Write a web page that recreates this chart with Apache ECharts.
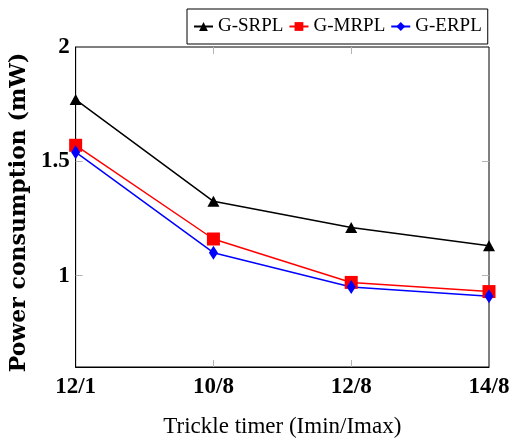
<!DOCTYPE html>
<html>
<head>
<meta charset="utf-8">
<script src="https://cdn.jsdelivr.net/npm/echarts@6/dist/echarts.min.js"></script>
<style>
  html, body { margin: 0; padding: 0; background: #fff; }
  #chart { width: 513px; height: 443px; }
</style>
</head>
<body>
<div id="chart"></div>
<script>
// Trickle timer settings (Imin/Imax)
const categories = ['12/1', '10/8', '12/8', '14/8'];
// Power consumption in mW for each protocol
const srpl = [1.77, 1.325, 1.21, 1.13];
const mrpl = [1.57, 1.16, 0.97, 0.93];
const erpl = [1.54, 1.10, 0.95, 0.91];
const yTicks = [1, 1.5, 2];

const serif = 'Liberation Serif';
const tickGrey = '#b4b4b4';

const chart = echarts.init(document.getElementById('chart'), null, { renderer: 'canvas' });

const innerTick = { show: true, inside: true, length: 7, lineStyle: { color: tickGrey, width: 1 } };

function lineSeries(name, data, color, symbol, size) {
  return {
    name: name,
    type: 'line',
    data: data,
    xAxisIndex: 0,
    yAxisIndex: 0,
    symbol: symbol,
    symbolSize: size,
    showSymbol: true,
    lineStyle: { color: color, width: 1.5 },
    itemStyle: { color: color },
    emphasis: { disabled: true },
    animation: false,
    z: 3
  };
}

chart.setOption({
  animation: false,
  backgroundColor: '#fff',
  grid: {
    left: 74, right: 24, top: 47, bottom: 75,
    show: true, borderColor: '#000', borderWidth: 1, backgroundColor: 'transparent'
  },
  legend: {
    left: 187, top: 9,
    padding: [8, 6, 8, 6],
    borderColor: '#000', borderWidth: 1,
    itemGap: 5, itemWidth: 19, itemHeight: 11,
    textStyle: { fontFamily: serif, fontSize: 19, color: '#000' },
    data: ['G-SRPL', 'G-MRPL', 'G-ERPL']
  },
  xAxis: [{
    type: 'category',
    data: categories,
    boundaryGap: false,
    position: 'bottom',
    name: 'Trickle timer (Imin/Imax)',
    nameLocation: 'middle',
    nameGap: 48,
    nameTextStyle: { fontFamily: serif, fontSize: 23, color: '#000' },
    axisLine: { show: true, lineStyle: { color: '#000', width: 1 } },
    axisTick: Object.assign({ interval: (i) => i > 0 && i < categories.length - 1, alignWithLabel: true }, innerTick),
    axisLabel: { fontFamily: serif, fontSize: 23, fontWeight: 'bold', color: '#000', margin: 9 },
    splitLine: { show: false }
  }, {
    type: 'category',
    data: categories,
    boundaryGap: false,
    position: 'top',
    axisLine: { show: false },
    axisTick: Object.assign({ interval: (i) => i > 0 && i < categories.length - 1, alignWithLabel: true }, innerTick),
    axisLabel: { show: false },
    splitLine: { show: false }
  }],
  yAxis: [{
    type: 'value',
    min: 0.6, max: 2,
    position: 'left',
    name: 'Power consumption (mW)',
    nameLocation: 'middle',
    nameGap: 45,
    nameTextStyle: { fontFamily: 'DejaVu Serif', fontSize: 22, fontWeight: 'bold', color: '#000', padding: [0, 11, 0, 0] },
    axisLine: { show: true, lineStyle: { color: '#000', width: 1 } },
    axisTick: Object.assign({ customValues: yTicks.filter(v => v < 2) }, innerTick),
    axisLabel: {
      customValues: yTicks,
      fontFamily: serif, fontSize: 23, fontWeight: 'bold', color: '#000', margin: 6,
      formatter: (v) => String(v)
    },
    splitLine: { show: false }
  }, {
    type: 'value',
    min: 0.6, max: 2,
    position: 'right',
    axisLine: { show: false },
    axisTick: Object.assign({ customValues: yTicks.filter(v => v < 2) }, innerTick),
    axisLabel: { show: false },
    splitLine: { show: false }
  }],
  series: [
    lineSeries('G-SRPL', srpl, '#000000', 'triangle', [12, 11]),
    lineSeries('G-MRPL', mrpl, '#ff0000', 'rect', [13, 13]),
    lineSeries('G-ERPL', erpl, '#0000ff', 'diamond', [9, 14])
  ]
});
</script>
</body>
</html>
